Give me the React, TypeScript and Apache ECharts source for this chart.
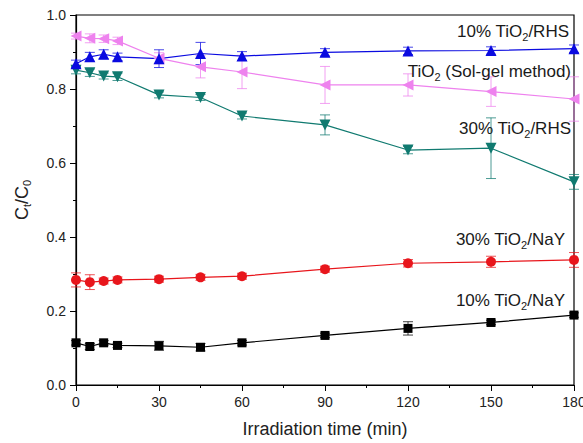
import React, { useEffect, useRef } from "react";
import * as echarts from "echarts";

const times = [0, 5, 10, 15, 30, 45, 60, 90, 120, 150, 180];
const xTicks = [0, 30, 60, 90, 120, 150, 180];

const rhs10 = [0.868, 0.887, 0.894, 0.887, 0.882, 0.896, 0.889, 0.899, 0.903, 0.904, 0.909];
const rhs10Err = [0.01, 0.012, 0.012, 0.01, 0.024, 0.03, 0.012, 0.01, 0.01, 0.01, 0.01];

const solgel = [0.943, 0.937, 0.936, 0.93, 0.883, 0.86, 0.846, 0.811, 0.811, 0.793, 0.773];
const solgelErr = [0.008, 0.012, 0.01, 0.01, 0.015, 0.03, 0.045, 0.05, 0.03, 0.04, 0.06];

const rhs30 = [0.851, 0.844, 0.835, 0.833, 0.784, 0.777, 0.727, 0.703, 0.635, 0.64, 0.549];
const rhs30Err = [0.01, 0.01, 0.008, 0.01, 0.008, 0.008, 0.008, 0.027, 0.01, 0.082, 0.02];

const nay30 = [0.284, 0.278, 0.281, 0.284, 0.286, 0.291, 0.294, 0.313, 0.329, 0.333, 0.338];
const nay30Err = [0.019, 0.02, 0.008, 0.008, 0.008, 0.008, 0.008, 0.008, 0.01, 0.015, 0.02];

const nay10 = [0.114, 0.104, 0.114, 0.107, 0.106, 0.102, 0.114, 0.134, 0.153, 0.169, 0.189];
const nay10Err = [0.006, 0.008, 0.006, 0.006, 0.012, 0.01, 0.006, 0.006, 0.018, 0.006, 0.006];

const FONT = "Liberation Sans, Arial, sans-serif";

type S = {
  name: string;
  values: number[];
  errs: number[];
  color: string;
  symbol: string;
  rotate: number;
  size: number;
};

const seriesDefs: S[] = [
  { name: "10% TiO2/NaY", values: nay10, errs: nay10Err, color: "#000000", symbol: "rect", rotate: 0, size: 9 },
  { name: "30% TiO2/NaY", values: nay30, errs: nay30Err, color: "#e8161c", symbol: "circle", rotate: 0, size: 10 },
  { name: "30% TiO2/RHS", values: rhs30, errs: rhs30Err, color: "#107a70", symbol: "triangle", rotate: 180, size: 11 },
  { name: "TiO2 (Sol-gel method)", values: solgel, errs: solgelErr, color: "#ee82ee", symbol: "triangle", rotate: 90, size: 11 },
  { name: "10% TiO2/RHS", values: rhs10, errs: rhs10Err, color: "#0a0ae0", symbol: "triangle", rotate: 0, size: 11 },
];

function App() {
  const ref = useRef<HTMLDivElement>(null);
  useEffect(() => {
    if (!ref.current) return;
    const chart = echarts.init(ref.current, undefined, { renderer: "svg" });
    const series: any[] = [];
    seriesDefs.forEach((s) => {
      series.push({
        type: "custom",
        name: s.name + " err",
        z: 1,
        data: times.map((t, i) => [t, s.values[i] - s.errs[i], s.values[i] + s.errs[i]]),
        renderItem: (params: any, api: any) => {
          const lo = api.coord([api.value(0), api.value(1)]);
          const hi = api.coord([api.value(0), api.value(2)]);
          const w = 5;
          const style = { stroke: s.color, lineWidth: 1, opacity: 0.75 };
          return {
            type: "group",
            children: [
              { type: "line", shape: { x1: lo[0], y1: lo[1], x2: hi[0], y2: hi[1] }, style },
              { type: "line", shape: { x1: lo[0] - w, y1: lo[1], x2: lo[0] + w, y2: lo[1] }, style },
              { type: "line", shape: { x1: hi[0] - w, y1: hi[1], x2: hi[0] + w, y2: hi[1] }, style },
            ],
          };
        },
      });
      series.push({
        type: "line",
        name: s.name,
        z: 3,
        data: times.map((t, i) => [t, s.values[i]]),
        symbol: s.symbol,
        symbolRotate: s.rotate,
        symbolSize: s.size,
        showAllSymbol: true,
        lineStyle: { color: s.color, width: 1.2 },
        itemStyle: { color: s.color },
      });
    });

    const lbl = (parts: string, x: number, y: number) => ({
      type: "text",
      x,
      y,
      style: {
        text: parts,
        align: "right",
        verticalAlign: "middle",
        fill: "#1a1a1a",
        font: `17px ${FONT}`,
        rich: {
          a: { fontSize: 17, fontFamily: FONT, fill: "#1a1a1a", color: "#1a1a1a" },
          s: { fontSize: 11, fontFamily: FONT, fill: "#1a1a1a", color: "#1a1a1a", verticalAlign: "bottom", padding: [12, 0, 0, 0] },
        },
      },
      z: 10,
    });

    chart.setOption({
      animation: false,
      backgroundColor: "#ffffff",
      grid: {
        left: 76,
        right: 9,
        top: 15,
        bottom: 58,
        show: true,
        borderColor: "#000",
        borderWidth: 1.2,
        outerBoundsMode: "none",
        containLabel: false,
      },
      xAxis: {
        type: "value",
        min: 0,
        max: 180,
        interval: 30,
        name: "Irradiation time (min)",
        nameLocation: "middle",
        nameGap: 35,
        nameTextStyle: { fontSize: 18, fontFamily: FONT, color: "#222" },
        axisLine: { show: true, lineStyle: { color: "#000", width: 1.2 } },
        axisTick: { show: true, length: 6, lineStyle: { color: "#000" } },
        minorTick: { show: true, splitNumber: 2, length: 3, lineStyle: { color: "#000" } },
        splitLine: { show: false },
        axisLabel: {
          fontSize: 14,
          fontFamily: FONT,
          color: "#222",
          margin: 10,
          formatter: (v: number) => (xTicks.includes(v) ? String(v) : ""),
        },
      },
      yAxis: {
        type: "value",
        min: 0,
        max: 1,
        interval: 0.2,
        name: "{a|C}{s|t}{a|/C}{s|0}",
        nameLocation: "middle",
        nameGap: 45,
        nameRotate: 90,
        nameTextStyle: {
          rich: {
            a: { fontSize: 18, fontFamily: FONT, color: "#222" },
            s: { fontSize: 11, fontFamily: FONT, color: "#222", padding: [0, 0, -10, 0] },
          },
        },
        axisLine: { show: true, lineStyle: { color: "#000", width: 1.2 } },
        axisTick: { show: true, length: 6, lineStyle: { color: "#000" } },
        minorTick: { show: true, splitNumber: 2, length: 3, lineStyle: { color: "#000" } },
        splitLine: { show: false },
        axisLabel: {
          fontSize: 14,
          fontFamily: FONT,
          color: "#222",
          margin: 10,
          formatter: (v: number) => v.toFixed(1),
        },
      },
      graphic: [
        lbl("{a|10% TiO}{s|2}{a|/RHS}", 569, 31),
        lbl("{a|TiO}{s|2}{a| (Sol-gel method)}", 571, 71),
        lbl("{a|30% TiO}{s|2}{a|/RHS}", 571, 128),
        lbl("{a|30% TiO}{s|2}{a|/NaY}", 565, 239),
        lbl("{a|10% TiO}{s|2}{a|/NaY}", 565, 300),
      ],
      series,
    });
    return () => chart.dispose();
  }, []);
  return <div ref={ref} style={{ width: 583, height: 443, position: "absolute", left: 0, top: 0 }} />;
}

export default App;
